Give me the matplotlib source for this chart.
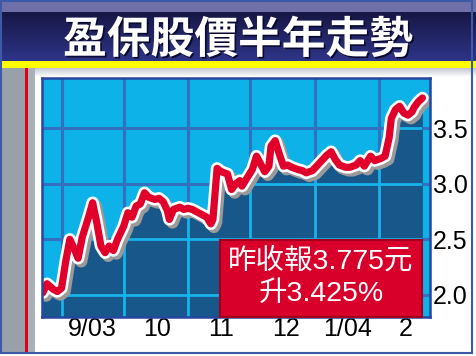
import matplotlib
matplotlib.use("Agg")
import matplotlib.pyplot as plt
import matplotlib.patheffects as pe
from matplotlib.patches import Rectangle
from matplotlib.colors import LinearSegmentedColormap
import numpy as np
import pandas as pd

# ---------------- data ----------------
title = "盈保股價半年走勢"
dates = ["2003-08-23", "2003-08-25", "2003-08-28", "2003-08-30", "2003-09-01",
         "2003-09-03", "2003-09-05", "2003-09-07", "2003-09-09", "2003-09-11",
         "2003-09-14", "2003-09-16", "2003-09-18", "2003-09-20", "2003-09-22",
         "2003-09-24", "2003-09-26", "2003-09-28", "2003-10-01", "2003-10-03",
         "2003-10-05", "2003-10-07", "2003-10-09", "2003-10-11", "2003-10-13",
         "2003-10-16", "2003-10-18", "2003-10-20", "2003-10-22", "2003-10-23",
         "2003-10-25", "2003-10-28", "2003-10-30", "2003-11-01", "2003-11-03",
         "2003-11-06", "2003-11-08", "2003-11-10", "2003-11-12", "2003-11-13",
         "2003-11-15", "2003-11-17", "2003-11-20", "2003-11-22", "2003-11-24",
         "2003-11-26", "2003-11-27", "2003-11-30", "2003-12-02", "2003-12-04",
         "2003-12-06", "2003-12-08", "2003-12-10", "2003-12-11", "2003-12-13",
         "2003-12-15", "2003-12-17", "2003-12-19", "2003-12-21", "2003-12-24",
         "2003-12-26", "2003-12-28", "2003-12-31", "2004-01-02", "2004-01-05",
         "2004-01-07", "2004-01-09", "2004-01-11", "2004-01-13", "2004-01-16",
         "2004-01-18", "2004-01-21", "2004-01-23", "2004-01-25", "2004-01-28",
         "2004-01-30", "2004-02-02", "2004-02-04", "2004-02-06", "2004-02-07",
         "2004-02-09", "2004-02-11", "2004-02-13", "2004-02-15", "2004-02-17",
         "2004-02-18", "2004-02-20", "2004-02-22"]
prices = [2.02, 2.10, 2.05, 2.03, 2.06,
          2.30, 2.50, 2.42, 2.33, 2.52,
          2.70, 2.83, 2.65, 2.44, 2.38,
          2.44, 2.40, 2.50, 2.62, 2.74,
          2.70, 2.80, 2.82, 2.92, 2.88,
          2.86, 2.87, 2.84, 2.76, 2.68,
          2.77, 2.79, 2.77, 2.78, 2.77,
          2.74, 2.72, 2.70, 2.64, 2.68,
          3.14, 3.11, 3.09, 2.95, 3.00,
          3.03, 2.98, 3.07, 3.13, 3.25,
          3.18, 3.11, 3.16, 3.34, 3.39,
          3.27, 3.16, 3.17, 3.15, 3.13,
          3.12, 3.10, 3.12, 3.16, 3.22,
          3.26, 3.29, 3.22, 3.17, 3.15,
          3.15, 3.17, 3.21, 3.16, 3.25,
          3.21, 3.23, 3.25, 3.42, 3.59,
          3.67, 3.70, 3.64, 3.62, 3.65,
          3.69, 3.74, 3.775]
month_starts = ["2003-09-01", "2003-10-01", "2003-11-01", "2003-12-01",
                "2004-01-01", "2004-02-01"]
xtick_dates = ["2003-09-16", "2003-10-17", "2003-11-17", "2003-12-18",
               "2004-01-17", "2004-02-14"]
xtick_labels = ["9/03", "10", "11", "12", "1/04", "2"]
ytick_values = [2.0, 2.5, 3.0, 3.5]
ytick_labels = ["2.0", "2.5", "3.0", "3.5"]
note_line1 = "昨收報3.775元"
note_line2 = "升3.425%"

# ---------------- figure ----------------
W, H = 476, 356
fig = plt.figure(figsize=(W / 100, H / 100), dpi=100)
fig.patch.set_facecolor("white")


def frect(x0, y0, x1, y1):
    return (x0 / W, 1 - y1 / H, (x1 - x0) / W, (y1 - y0) / H)


def add_rect(x0, y0, x1, y1, color, z=0):
    l, b, w, h = frect(x0, y0, x1, y1)
    r = Rectangle((l, b), w, h, transform=fig.transFigure, facecolor=color,
                  edgecolor="none", zorder=z)
    fig.patches.append(r)
    return r


# banner
add_rect(0, 0, W, 12, "#7070a8", z=1)
axb = fig.add_axes(frect(0, 12, W, 61))
grad = np.linspace(0, 1, 50).reshape(-1, 1)
cm_nav = LinearSegmentedColormap.from_list("nav", ["#171745", "#2e3488"])
axb.imshow(grad, aspect="auto", cmap=cm_nav, extent=(0, 1, 0, 1), origin="upper")
axb.set_axis_off()
add_rect(0, 61, W, 68, "#ffff00", z=1)
axg = fig.add_axes(frect(35, 68, W, 77))
cm_g = LinearSegmentedColormap.from_list("g", ["#c4c8d2", "#ffffff"])
axg.imshow(grad, aspect="auto", cmap=cm_g, extent=(0, 1, 0, 1), origin="upper")
axg.set_axis_off()

# left strip
add_rect(2, 68, 35, 353, "#98a0aa", z=1)
add_rect(28, 68, 35, 353, "#a8b0b8", z=1)
add_rect(25, 68, 28, 353, "#e0001c", z=2)

# title (with dark drop shadow)
fig.text(0.5, 1 - 40 / H, title, color="white", fontsize=31.5,
         fontweight="black", family=["Noto Sans CJK TC"], ha="center",
         va="center", zorder=6,
         path_effects=[pe.withSimplePatchShadow(offset=(1.2, -1.2),
                                                shadow_rgbFace="#0a0a30",
                                                alpha=1.0)])

# ---------------- plot ----------------
ax = fig.add_axes(frect(42, 78, 430, 317))
x = pd.to_datetime(dates)
y = np.array(prices)
ax.set_facecolor("#0cb2e8")
ax.set_xlim(pd.Timestamp("2003-08-22 14:00"), pd.Timestamp("2004-02-25 16:00"))
ax.set_ylim(1.8, 3.955)

grid_dark = "#3470c0"
grid_light = "#16b4ea"
ms = pd.to_datetime(month_starts)
for m in ms:
    ax.axvline(m, color=grid_dark, lw=2.2, zorder=1)
for v in ytick_values:
    ax.axhline(v, color=grid_dark, lw=2.2, zorder=1)

poly = ax.fill_between(x, y, 1.0, color="#18578a", zorder=2, lw=0)
clip = poly.get_paths()[0]
for m in ms:
    ln = ax.axvline(m, color=grid_light, lw=2.0, zorder=3)
    ln.set_clip_path(clip, ax.transData)
for v in ytick_values:
    ln = ax.axhline(v, color=grid_light, lw=2.0, zorder=3)
    ln.set_clip_path(clip, ax.transData)

ax.plot(x, y, color="#e0002a", lw=5.2, solid_capstyle="round",
        solid_joinstyle="round", zorder=5,
        path_effects=[pe.Stroke(offset=(2.2, -2.2), linewidth=9,
                                foreground="#9a9a9a"),
                      pe.Stroke(linewidth=9, foreground="white"),
                      pe.Normal()])

for s in ax.spines.values():
    s.set_color("#2646a0")
    s.set_linewidth(1.8)
    s.set_zorder(8)

ax.set_yticks(ytick_values)
ax.set_yticklabels(ytick_labels)
ax.yaxis.tick_right()
ax.set_xticks(pd.to_datetime(xtick_dates))
ax.set_xticklabels(xtick_labels)
ax.tick_params(axis="both", length=0, labelsize=18, colors="black")
ax.tick_params(axis="y", pad=2)
ax.tick_params(axis="x", pad=0)
for t in ax.get_xticklabels() + ax.get_yticklabels():
    t.set_family(["Liberation Sans"])

# annotation box
box = Rectangle((0.459, 0.0), 0.52, 0.322, transform=ax.transAxes,
                facecolor="#d8002a", edgecolor="#a0001e", lw=1.5, zorder=9,
                clip_on=False)
ax.add_patch(box)
ax.text(0.719, 0.232, note_line1, transform=ax.transAxes, color="white",
        fontsize=20.5, family=["Liberation Sans", "Noto Sans CJK TC"],
        ha="center", va="center", zorder=10)
ax.text(0.719, 0.095, note_line2, transform=ax.transAxes, color="white",
        fontsize=20.5, family=["Liberation Sans", "Noto Sans CJK TC"],
        ha="center", va="center", zorder=10)

# outer border
border = Rectangle((0.5 / W, 3.5 / H), 1 - 5 / W, 1 - 4.5 / H,
                   transform=fig.transFigure, facecolor="none",
                   edgecolor="#3c5aa8", lw=1.5, zorder=20)
fig.patches.append(border)

fig.savefig("out.png", dpi=100)
